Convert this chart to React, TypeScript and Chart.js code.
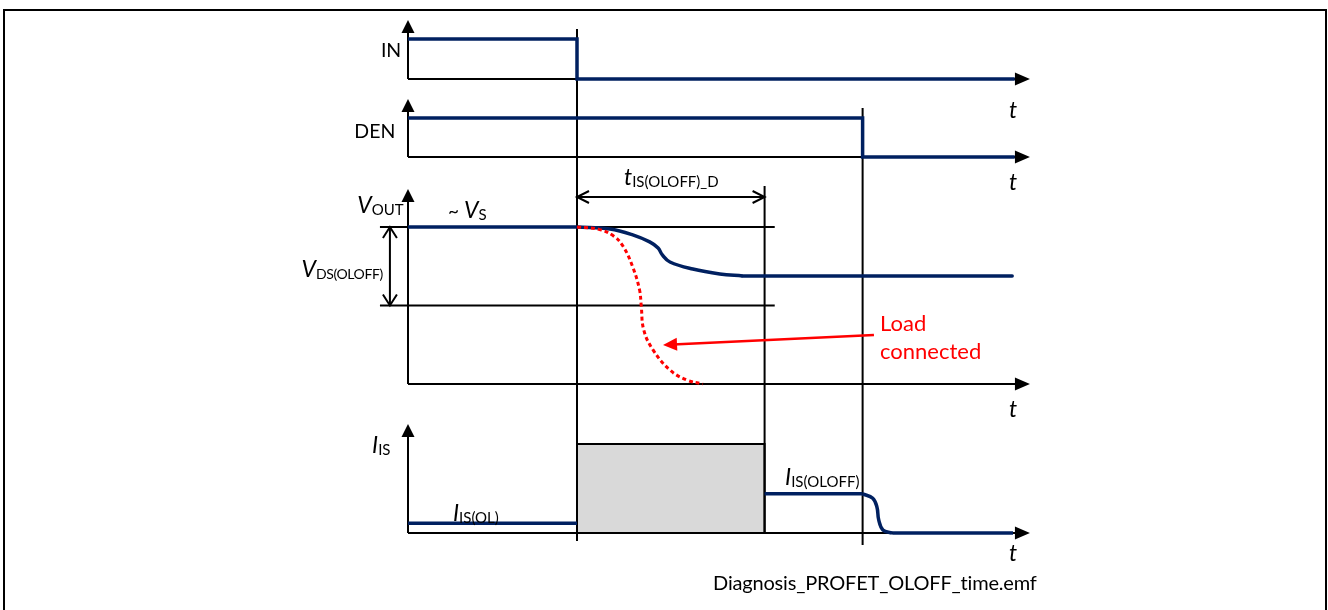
import React, { useEffect, useRef } from "react";
import { Chart, registerables } from "chart.js";

Chart.register(...registerables);

// ---------------- canvas / layout ----------------
const W = 1328;
const H = 610;
const X_ORIGIN_PX = 408; // where t = 0 sits
const PX_PER_MS = 16.9; // time-axis scale
const FONT = '"Lato", "Noto Sans", sans-serif';
const NAVY = "#002060";
const RED = "#ff0000";
const BLACK = "#000000";
const GRAY_FILL = "#d9d9d9";

// panel layout (page pixels): baseline, pixels per unit level, top of axis arrow
const P_IN = { base: 79, unit: 40, top: 20 };
const P_DEN = { base: 157, unit: 39, top: 99 };
const P_VOUT = { base: 384, unit: 157, top: 189 };
const P_IS = { base: 533, unit: 89, top: 424 };

// ---------------- data (time in ms, levels normalised) ----------------
const T_IN_FALL = 10;
const T_DELAY_END = 21.1;
const T_DEN_FALL = 26.9;
const T_AXIS_END = 36.8;

const IN_T = [0, 10, 10, 35.9];
const IN_LEVEL = [1, 1, 0, 0];

const DEN_T = [0, 26.9, 26.9, 35.9];
const DEN_LEVEL = [1, 1, 0, 0];

const VS_LEVEL = 1;
const VDS_LEVEL = 0.5;
const VOUT_FLAT_T = [0, 10];
const VOUT_CURVE_T = [10, 11.95, 13.3, 14.3, 14.8, 15.05, 15.5, 16.85, 18.45, 19.8];
const VOUT_CURVE_LEVEL = [1, 0.987, 0.95, 0.905, 0.866, 0.822, 0.777, 0.732, 0.701, 0.688];
const VOUT_END_T = [19.8, 35.75];
const VOUT_END_LEVEL = 0.688;

const VLOAD_T = [10, 11.3, 12.2, 12.75, 13.3, 13.7, 13.8, 13.95, 14.5, 15.5, 16.5, 17.45];
const VLOAD_LEVEL = [1, 0.985, 0.94, 0.873, 0.745, 0.6, 0.5, 0.344, 0.217, 0.089, 0.025, 0];

const IS_OL_T = [0, 10];
const IS_OL_LEVEL = 0.11;
const IS_BLANK_T = [10, 21.1];
const IS_BLANK_LEVEL = 1;
const IS_OLOFF_T = [21.1, 26.9];
const IS_OLOFF_LEVEL = 0.44;
const IS_FALL_T = [26.9, 27.5, 27.75, 27.85, 28.1, 28.65];
const IS_FALL_LEVEL = [0.44, 0.39, 0.29, 0.15, 0.035, 0];
const IS_END_T = [28.65, 35.8];

// reference line extents
const REF_T = [-1.66, 21.7];
const VDS_ARROW_T = -1.07;
const DELAY_ARROW_Y = 197;
const LOAD_ARROW_FROM = { t: 27.57, y: 335 };
const LOAD_ARROW_TO = { t: 15.09, y: 345 };

// marker verticals (page px extents)
const MARKERS = [
  { t: T_IN_FALL, y0: 29, y1: 541 },
  { t: T_DELAY_END, y0: 186, y1: 533 },
  { t: T_DEN_FALL, y0: 108, y1: 545 },
];

// labels
type Seg = { s: string; italic?: boolean; sub?: boolean; size?: number };
type Label = {
  t: number;
  y: number;
  segs: Seg[];
  align?: "left" | "right" | "center";
  color?: string;
  size?: number;
  subSize?: number;
  subSpacing?: number;
  fit?: number;
};
const LABELS: Label[] = [
  { t: -0.4, y: 57, segs: [{ s: "IN" }], align: "right", size: 19.5 },
  { t: -0.75, y: 138, segs: [{ s: "DEN" }], align: "right", size: 19.5 },
  { t: 35.8, y: 118, segs: [{ s: "t", italic: true }], align: "center", size: 23 },
  { t: 35.8, y: 190, segs: [{ s: "t", italic: true }], align: "center", size: 23 },
  { t: 35.8, y: 417, segs: [{ s: "t", italic: true }], align: "center", size: 23 },
  { t: 35.8, y: 561, segs: [{ s: "t", italic: true }], align: "center", size: 23 },
  { t: -3.0, y: 213, segs: [{ s: "V", italic: true }, { s: "OUT", sub: true }], size: 23 },
  { t: 2.37, y: 218, segs: [{ s: "~ ", size: 19 }, { s: "V", italic: true }, { s: "S", sub: true }], size: 23 },
  { t: -6.3, y: 277, segs: [{ s: "V", italic: true }, { s: "DS(OLOFF)", sub: true }], size: 23, subSize: 14, subSpacing: -0.4 },
  { t: 12.78, y: 185, segs: [{ s: "t", italic: true }, { s: "IS(OLOFF)_D", sub: true }], size: 23 },
  { t: -2.13, y: 453, segs: [{ s: "I", italic: true }, { s: "IS", sub: true }], size: 23 },
  { t: 2.66, y: 521, segs: [{ s: "I", italic: true }, { s: "IS(OL)", sub: true }], size: 23 },
  { t: 22.31, y: 485, segs: [{ s: "I", italic: true }, { s: "IS(OLOFF)", sub: true }], size: 23 },
  { t: 27.93, y: 331, segs: [{ s: "Load" }], color: RED, size: 22 },
  { t: 27.93, y: 359, segs: [{ s: "connected" }], color: RED, size: 22 },
  { t: 18.05, y: 590, segs: [{ s: "Diagnosis_PROFET_OLOFF_time.emf" }], size: 20, fit: 324 },
];

// ---------------- helpers ----------------
type Panel = { base: number; unit: number; top: number };
const lv = (p: Panel, level: number) => p.base - level * p.unit;
const pts = (ts: number[], ys: number[]) => ts.map((t, i) => ({ x: t, y: ys[i] }));
const pxToMs = (px: number) => px / PX_PER_MS;

function line(data: { x: number; y: number }[], color: string, width: number, extra: any = {}) {
  return {
    data,
    borderColor: color,
    backgroundColor: color,
    borderWidth: width,
    pointRadius: 0,
    pointHoverRadius: 0,
    tension: 0,
    fill: false,
    borderCapStyle: "butt",
    borderJoinStyle: "miter",
    ...extra,
  };
}

const PANELS = [P_IN, P_DEN, P_VOUT, P_IS];
const AXIS_HEAD_LEN = 13;
const RIGHT_HEAD_LEN = 15;

function buildDatasets() {
  const back: any[] = [];
  // gray blanking box
  back.push(
    line(
      [
        { x: IS_BLANK_T[0], y: lv(P_IS, 0) },
        { x: IS_BLANK_T[0], y: lv(P_IS, IS_BLANK_LEVEL) },
        { x: IS_BLANK_T[1], y: lv(P_IS, IS_BLANK_LEVEL) },
        { x: IS_BLANK_T[1], y: lv(P_IS, 0) },
        { x: IS_BLANK_T[0], y: lv(P_IS, 0) },
      ],
      BLACK,
      2,
      { fill: "shape", backgroundColor: GRAY_FILL }
    )
  );
  // axes
  for (const p of PANELS) {
    back.push(line([{ x: 0, y: p.base }, { x: 0, y: p.top + AXIS_HEAD_LEN - 2 }], BLACK, 2));
    back.push(line([{ x: 0, y: p.base }, { x: T_AXIS_END - pxToMs(RIGHT_HEAD_LEN - 2), y: p.base }], BLACK, 2));
  }
  // reference lines V_S and V_DS
  back.push(line(REF_T.map((t) => ({ x: t, y: lv(P_VOUT, VS_LEVEL) })), BLACK, 2));
  back.push(line(REF_T.map((t) => ({ x: t, y: lv(P_VOUT, VDS_LEVEL) })), BLACK, 2));
  // marker verticals
  for (const m of MARKERS) back.push(line([{ x: m.t, y: m.y0 }, { x: m.t, y: m.y1 }], BLACK, 2));
  // double arrows
  back.push(line([{ x: T_IN_FALL, y: DELAY_ARROW_Y }, { x: T_DELAY_END, y: DELAY_ARROW_Y }], BLACK, 2));
  back.push(line([{ x: VDS_ARROW_T, y: lv(P_VOUT, VS_LEVEL) }, { x: VDS_ARROW_T, y: lv(P_VOUT, VDS_LEVEL) }], BLACK, 2));

  // signals
  back.push(line(pts(IN_T, IN_LEVEL.map((l) => lv(P_IN, l))), NAVY, 3.5));
  back.push(line(pts(DEN_T, DEN_LEVEL.map((l) => lv(P_DEN, l))), NAVY, 3.5));
  back.push(line(VOUT_FLAT_T.map((t) => ({ x: t, y: lv(P_VOUT, VS_LEVEL) })), NAVY, 3.5));
  back.push(line(pts(VOUT_CURVE_T, VOUT_CURVE_LEVEL.map((l) => lv(P_VOUT, l))), NAVY, 3.5, { tension: 0.4 }));
  back.push(line(VOUT_END_T.map((t) => ({ x: t, y: lv(P_VOUT, VOUT_END_LEVEL) })), NAVY, 3.5, { borderCapStyle: "round" }));
  back.push(line(IS_OL_T.map((t) => ({ x: t, y: lv(P_IS, IS_OL_LEVEL) })), NAVY, 3.5));
  back.push(line(IS_OLOFF_T.map((t) => ({ x: t, y: lv(P_IS, IS_OLOFF_LEVEL) })), NAVY, 3.5));
  back.push(line(pts(IS_FALL_T, IS_FALL_LEVEL.map((l) => lv(P_IS, l))), NAVY, 3.5, { tension: 0.4 }));
  back.push(line(IS_END_T.map((t) => ({ x: t, y: lv(P_IS, 0) })), NAVY, 3.5));

  // load connected
  back.push(line(pts(VLOAD_T, VLOAD_LEVEL.map((l) => lv(P_VOUT, l))), RED, 3, { tension: 0.4, borderDash: [4, 3] }));
  back.push(
    line(
      [
        { x: LOAD_ARROW_FROM.t, y: LOAD_ARROW_FROM.y },
        { x: LOAD_ARROW_TO.t + pxToMs(10), y: LOAD_ARROW_TO.y - 0.5 },
      ],
      RED,
      2.5
    )
  );
  // later entries drawn on top
  return back.map((d, i) => ({ ...d, order: back.length - i }));
}

// arrow heads (tip positions in data coordinates)
type Head = { t: number; y: number; dx: number; dy: number; len: number; half: number; color: string; open?: boolean };
function buildHeads(): Head[] {
  const h: Head[] = [];
  for (const p of PANELS) {
    h.push({ t: 0, y: p.top, dx: 0, dy: -1, len: AXIS_HEAD_LEN, half: 6.5, color: BLACK });
    h.push({ t: T_AXIS_END, y: p.base, dx: 1, dy: 0, len: RIGHT_HEAD_LEN, half: 6.5, color: BLACK });
  }
  h.push({ t: T_IN_FALL, y: DELAY_ARROW_Y, dx: -1, dy: 0, len: 12, half: 6, color: BLACK, open: true });
  h.push({ t: T_DELAY_END, y: DELAY_ARROW_Y, dx: 1, dy: 0, len: 12, half: 6, color: BLACK, open: true });
  h.push({ t: VDS_ARROW_T, y: lv(P_VOUT, VS_LEVEL), dx: 0, dy: -1, len: 11, half: 7, color: BLACK, open: true });
  h.push({ t: VDS_ARROW_T, y: lv(P_VOUT, VDS_LEVEL), dx: 0, dy: 1, len: 11, half: 7, color: BLACK, open: true });
  h.push({ t: LOAD_ARROW_TO.t, y: LOAD_ARROW_TO.y, dx: -211, dy: 10, len: 14, half: 6.5, color: RED });
  return h;
}

const HEADS = buildHeads();

const overlayPlugin = {
  id: "diagramOverlay",
  beforeDraw(chart: any) {
    const ctx = chart.ctx as CanvasRenderingContext2D;
    ctx.save();
    ctx.fillStyle = "#ffffff";
    ctx.fillRect(0, 0, chart.width, chart.height);
    ctx.strokeStyle = BLACK;
    ctx.lineWidth = 2;
    ctx.beginPath();
    ctx.moveTo(4, chart.height + 2);
    ctx.lineTo(4, 10);
    ctx.lineTo(1326, 10);
    ctx.lineTo(1326, chart.height + 2);
    ctx.stroke();
    ctx.restore();
  },
  afterDatasetsDraw(chart: any) {
    const ctx = chart.ctx as CanvasRenderingContext2D;
    const xs = chart.scales.x;
    const ys = chart.scales.y;
    ctx.save();
    for (const h of HEADS) {
      const x = xs.getPixelForValue(h.t);
      const y = ys.getPixelForValue(h.y);
      const n = Math.hypot(h.dx, h.dy);
      const ux = h.dx / n;
      const uy = h.dy / n;
      const bx = x - ux * h.len;
      const by = y - uy * h.len;
      const px = -uy * h.half;
      const py = ux * h.half;
      ctx.beginPath();
      ctx.moveTo(bx + px, by + py);
      ctx.lineTo(x, y);
      ctx.lineTo(bx - px, by - py);
      if (h.open) {
        ctx.strokeStyle = h.color;
        ctx.lineWidth = 2;
        ctx.lineJoin = "miter";
        ctx.stroke();
      } else {
        ctx.closePath();
        ctx.fillStyle = h.color;
        ctx.fill();
      }
    }
    // labels
    for (const lb of LABELS) {
      const base = lb.size ?? 20;
      const subSize = lb.subSize ?? 15;
      const fontOf = (g: Seg) => `${g.italic ? "italic " : ""}${g.sub ? subSize : g.size ?? base}px ${FONT}`;
      const spacingOf = (g: Seg, fitSpacing: number) => (g.sub ? lb.subSpacing ?? 0 : 0) + fitSpacing;
      (ctx as any).letterSpacing = "0px";
      let total = 0;
      for (const g of lb.segs) {
        ctx.font = fontOf(g);
        (ctx as any).letterSpacing = `${spacingOf(g, 0)}px`;
        total += ctx.measureText(g.s).width;
      }
      (ctx as any).letterSpacing = "0px";
      let fitSpacing = 0;
      if (lb.fit) {
        const chars = lb.segs.reduce((a, g) => a + g.s.length, 0);
        fitSpacing = Math.max(-1, Math.min(3, (lb.fit - total) / chars));
        total = lb.fit;
      }
      let x = xs.getPixelForValue(lb.t);
      if (lb.align === "right") x -= total;
      else if (lb.align === "center") x -= total / 2;
      const y = ys.getPixelForValue(lb.y);
      ctx.fillStyle = lb.color ?? BLACK;
      ctx.textBaseline = "alphabetic";
      ctx.textAlign = "left";
      for (const g of lb.segs) {
        ctx.font = fontOf(g);
        (ctx as any).letterSpacing = `${spacingOf(g, fitSpacing)}px`;
        ctx.fillText(g.s, x, y + (g.sub ? 2 : 0));
        x += ctx.measureText(g.s).width;
      }
      (ctx as any).letterSpacing = "0px";
    }
    ctx.restore();
  },
};

export default function App() {
  const ref = useRef<HTMLCanvasElement | null>(null);
  useEffect(() => {
    if (!ref.current) return;
    const chart = new Chart(ref.current, {
      type: "line",
      data: { datasets: buildDatasets() as any },
      options: {
        animation: false,
        responsive: false,
        maintainAspectRatio: false,
        events: [],
        layout: { padding: 0 },
        plugins: { legend: { display: false }, tooltip: { enabled: false } },
        elements: { point: { radius: 0 } },
        scales: {
          x: {
            type: "linear",
            display: false,
            min: -X_ORIGIN_PX / PX_PER_MS,
            max: (W - X_ORIGIN_PX) / PX_PER_MS,
          },
          y: { type: "linear", display: false, min: 0, max: H, reverse: true },
        },
      },
      plugins: [overlayPlugin],
    });
    return () => chart.destroy();
  }, []);
  return (
    <div style={{ position: "absolute", left: 0, top: 0, width: W, height: H, background: "#fff" }}>
      <canvas ref={ref} width={W} height={H} style={{ display: "block", width: W, height: H }} />
    </div>
  );
}
